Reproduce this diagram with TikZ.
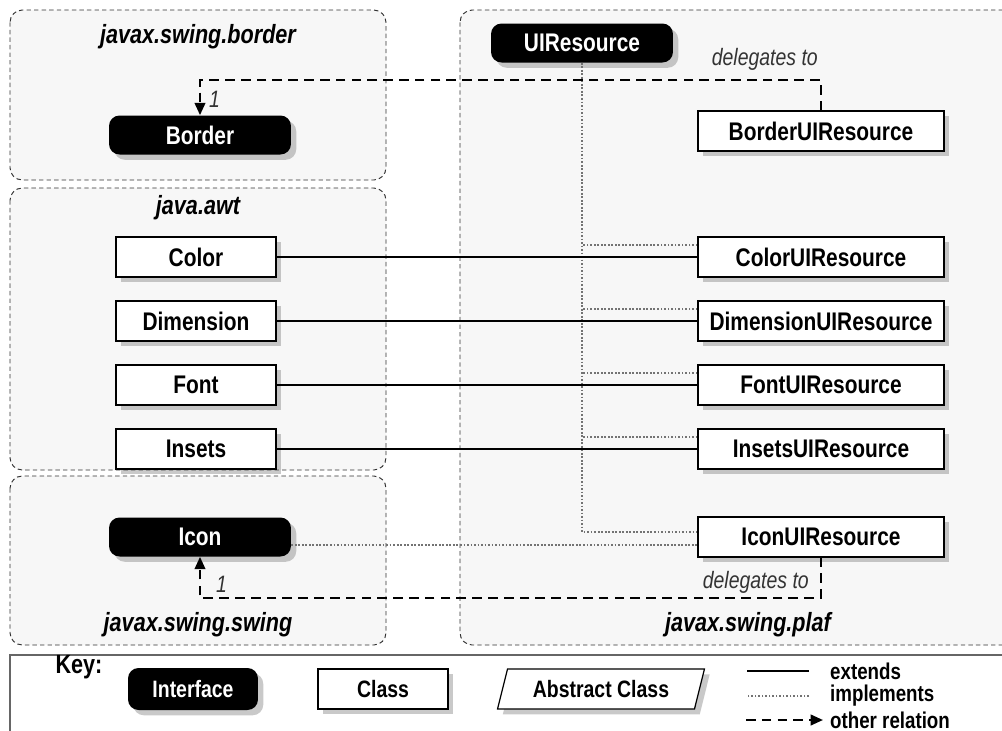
\documentclass[tikz,border=0pt]{standalone}
\usepackage{fontspec}
\setmainfont{Liberation Sans}[FakeStretch=0.82]
\usetikzlibrary{arrows.meta,shapes.geometric,shadows}

\tikzset{
  pkg/.style={draw=black!80, line width=0.55pt, dash pattern=on 2.5pt off 1.8pt,
    fill=black!3, rounded corners=7pt},
  pkgname/.style={font=\bfseries\itshape\fontsize{15}{17}\selectfont},
  shade/.style={drop shadow={shadow xshift=3pt, shadow yshift=-3pt,
    opacity=0.35, fill=black!60}},
  iface/.style={shade, fill=black, text=white, rounded corners=6pt,
    minimum width=3.64cm, minimum height=0.78cm,
    font=\bfseries\fontsize{14.5}{16}\selectfont},
  cls/.style={shade, draw, fill=white, line width=0.7pt,
    minimum width=4.92cm, minimum height=0.8cm,
    font=\bfseries\fontsize{14.5}{16}\selectfont},
  smallcls/.style={cls, minimum width=3.2cm},
  keyfont/.style={font=\bfseries\fontsize{13.5}{15}\selectfont},
  ext/.style={line width=0.6pt},
  impl/.style={black!55, line width=0.6pt, dash pattern=on 1pt off 1pt},
  rel/.style={line width=1.3pt, dash pattern=on 5.5pt off 3.5pt},
  lbl/.style={font=\itshape\fontsize{13.5}{15}\selectfont, text=black!80},
  keytext/.style={anchor=west, font=\bfseries\fontsize{13}{15}\selectfont},
}

\begin{document}
\begin{tikzpicture}[x=0.02cm,y=-0.02cm]
  \clip (0,0) rectangle (1002,731);
  \fill[white] (0,0) rectangle (1002,731);

  % packages
  \draw[pkg] (10,10) rectangle (386,180);
  \draw[pkg] (10,188) rectangle (386,470);
  \draw[pkg] (10,476) rectangle (386,645);
  \draw[pkg] (460,10) rectangle (1040,645);
  \node[pkgname] (pborder) at (198,37) {javax.swing.border};
  \node[pkgname] (pawt) at (198,208) {java.awt};
  \node[pkgname] (pswing) at (198,625) {javax.swing.swing};
  \node[pkgname] (pplaf) at (748,625) {javax.swing.plaf};

  % interfaces
  \node[iface] (border) at (200,135) {Border};
  \node[iface] (uires) at (582,43) {UIResource};
  \node[iface] (icon) at (200,537) {Icon};

  % classes
  \node[cls] (borderui) at (821,131) {BorderUIResource};
  \node[smallcls] (color) at (196,257) {Color};
  \node[smallcls] (dim) at (196,321) {Dimension};
  \node[smallcls] (font) at (196,385) {Font};
  \node[smallcls] (insets) at (196,449) {Insets};
  \node[cls] (colorui) at (821,257) {ColorUIResource};
  \node[cls] (dimui) at (821,321) {DimensionUIResource};
  \node[cls] (fontui) at (821,385) {FontUIResource};
  \node[cls] (insetsui) at (821,449) {InsetsUIResource};
  \node[cls] (iconui) at (821,537) {IconUIResource};

  % implements
  \draw[impl] (uires.south) |- ([yshift=0.1cm]iconui.west);
  \foreach \n in {colorui,dimui,fontui,insetsui}{
    \coordinate (\n-in) at ([yshift=0.24cm]\n.west);
    \draw[impl] (\n-in) -- (uires.south |- \n-in);
  }
  \draw[impl] ([yshift=-0.16cm]icon.east) -- ([yshift=-0.16cm]iconui.west);

  % extends
  \draw[ext] (color) -- (colorui);
  \draw[ext] (dim) -- (dimui);
  \draw[ext] (font) -- (fontui);
  \draw[ext] (insets) -- (insetsui);

  % delegates to
  \coordinate (reltop) at (0,80);
  \coordinate (relbot) at (0,598);
  \draw[rel,-{Triangle[length=7pt,width=6pt]}]
    (borderui.north) -- (borderui.north |- reltop) -| (border.north);
  \draw[rel,-{Triangle[length=7pt,width=6pt]}]
    (iconui.south) -- (iconui.south |- relbot) -| (icon.south);
  \node[lbl, anchor=south east] (dlgtop) at (824,77) {delegates to};
  \node[lbl, anchor=east] (dlgbot) at (815,582) {delegates to};
  \node[lbl, anchor=west] (onetop) at (203,99) {1};
  \node[lbl, anchor=west] (onebot) at (210,584) {1};

  % key
  \draw[black!60, line width=1.2pt] (10,740) |- (1040,655);
  \node[font=\bfseries\fontsize{15}{17}\selectfont] (key) at (79,667) {Key:};
  \node[iface, keyfont, minimum width=2.6cm, minimum height=0.84cm] (keyiface) at (193,689) {Interface};
  \node[cls, keyfont, minimum width=2.6cm] (keycls) at (383,689) {Class};
  \node[shade, draw, fill=white, line width=0.7pt, trapezium,
    trapezium left angle=76, trapezium right angle=104,
    minimum height=0.8cm, inner xsep=0pt, keyfont] (keyabs) at (601,689) {Abstract Class};
  \node[keytext] (kext) at (824,671) {extends};
  \node[keytext] (kimpl) at (824,696) {implements};
  \node[keytext] (krel) at (824,720) {other relation};
  \draw[ext] ([xshift=-0.3cm]kext.west) -- ++(-62,0);
  \draw[impl] ([xshift=-0.3cm]kimpl.west) -- ++(-62,0);
  \draw[rel,-{Triangle[length=7pt,width=6pt]}] ([xshift=-0.6cm]krel.west) ++(-48,0) -- ([xshift=-0.02cm]krel.west);
\end{tikzpicture}
\end{document}
